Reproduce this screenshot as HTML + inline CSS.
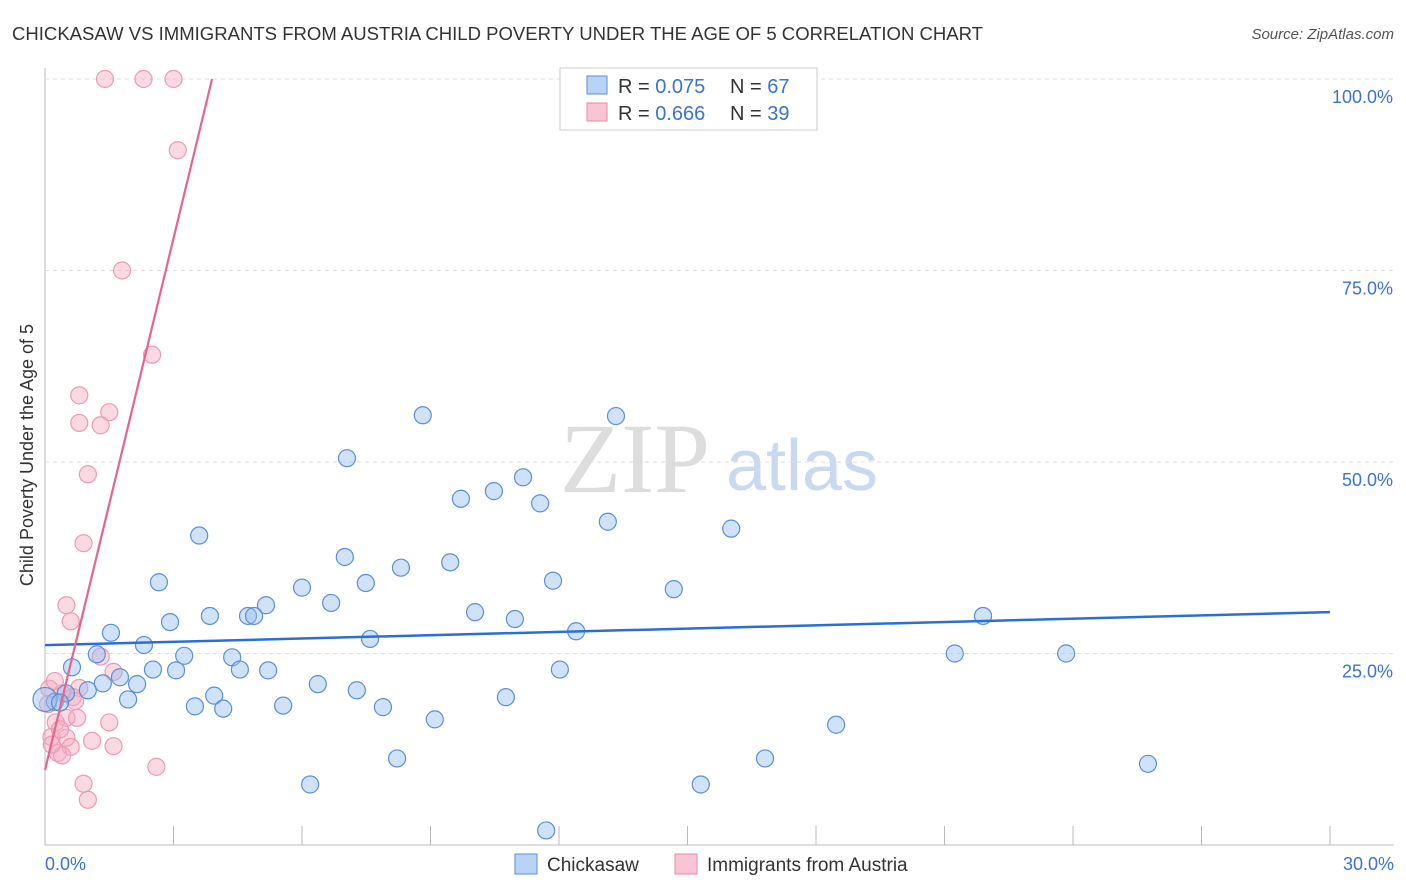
<!DOCTYPE html>
<html><head><meta charset="utf-8"><style>
body{margin:0;background:#fff;font-family:"Liberation Sans",sans-serif}
svg{display:block}
</style></head><body>
<svg id="c" width="1406" height="892">
<text x="12" y="40" font-size="18" fill="#333" textLength="971" lengthAdjust="spacingAndGlyphs">CHICKASAW VS IMMIGRANTS FROM AUSTRIA CHILD POVERTY UNDER THE AGE OF 5 CORRELATION CHART</text>
<text x="1394" y="39" font-size="15" fill="#555" font-style="italic" text-anchor="end">Source: ZipAtlas.com</text>
<text x="33" y="455" font-size="18" fill="#333" text-anchor="middle" transform="rotate(-90 33 455)">Child Poverty Under the Age of 5</text>
<text x="635" y="492" font-size="100" fill="#ddd" text-anchor="middle" font-family="Liberation Serif">ZIP</text>
<text x="802" y="490" font-size="72" fill="#c9d9f0" text-anchor="middle">atlas</text>
<g id="grid"></g><g id="pts"></g><g id="lines"></g>
<g>
<rect x="560" y="68" width="257" height="62" fill="#fff" stroke="#ccc"/>
<rect x="587" y="76" width="20" height="18" fill="#b8d3f5" stroke="#5b8fd8"/>
<rect x="587" y="103" width="20" height="18" fill="#f9c4d3" stroke="#e98aa8"/>
<text x="618" y="93" font-size="20" fill="#333">R = <tspan fill="#3a73d1">0.075</tspan></text>
<text x="730" y="93" font-size="20" fill="#333">N = <tspan fill="#3a73d1">67</tspan></text>
<text x="618" y="120" font-size="20" fill="#333">R = <tspan fill="#3a73d1">0.666</tspan></text>
<text x="730" y="120" font-size="20" fill="#333">N = <tspan fill="#3a73d1">39</tspan></text>
</g>
<g>
<rect x="515" y="854" width="22" height="20" fill="#b8d3f5" stroke="#5b8fd8"/>
<text x="547" y="871" font-size="19" fill="#333">Chickasaw</text>
<rect x="675" y="854" width="22" height="20" fill="#f9c4d3" stroke="#e98aa8"/>
<text x="707" y="871" font-size="19" fill="#333">Immigrants from Austria</text>
</g>
</svg>
<script>
const yTicks=[25,50,75,100];
const xTickLabels=["0.0%","30.0%"];
const blueX=[8.82,7.05,13.33,11.16,9.71,10.48,11.56,13.14,16.02,3.60,7.00,9.46,8.31,11.86,2.66,7.49,6.00,14.68,6.68,5.16,10.04,10.97,3.85,4.74,4.88,2.92,21.90,12.40,1.54,7.59,2.31,1.21,3.25,4.37,21.24,23.84,0.63,2.52,3.06,4.55,5.21,12.02,1.75,1.35,2.15,1.00,6.37,7.28,3.95,10.76,0.49,0.23,1.94,3.50,4.16,5.56,7.89,9.10,18.47,8.22,16.81,25.75,6.19,15.31,11.70,0.0,0.35];
const blueY=[56.1,50.5,56.0,48.0,45.2,46.2,44.6,42.2,41.3,40.4,37.6,36.9,36.2,34.5,34.3,34.2,33.6,33.4,31.6,31.3,30.4,29.5,29.9,29.9,29.9,29.1,29.9,27.9,27.7,26.9,26.1,24.9,24.7,24.5,25.0,25.0,23.2,22.9,22.8,22.9,22.8,22.9,21.9,21.1,21.0,20.2,21.0,20.2,19.5,19.3,19.8,18.7,19.0,18.1,17.8,18.2,18.0,16.4,15.7,11.3,11.3,10.6,7.9,7.9,1.9,19.0,18.6];
const pinkX=[1.4,2.3,3.0,3.1,1.8,2.5,0.8,1.5,0.8,1.3,1.0,0.9,0.5,0.6,1.3,1.6,0.8,0.4,0.65,0.5,0.75,1.5,0.25,1.1,0.5,0.15,1.6,0.6,0.3,0.4,2.6,0.9,1.0,0.1,0.07,0.23,0.35,0.16,0.7];
const pinkY=[100,100,100,90.7,75.0,64.0,58.7,56.5,55.1,54.8,48.4,39.4,31.3,29.2,24.6,22.6,20.5,19.8,19.3,16.6,16.6,16.0,16.0,13.6,14.0,14.1,12.9,12.8,12.0,11.7,10.2,8.0,5.9,20.4,18.4,21.4,15.1,13.1,18.8];
const X=v=>45+v/30*1285, Y=v=>845-v/100*766;
const ns="http://www.w3.org/2000/svg";
function mk(tag,attrs,parent){const e=document.createElementNS(ns,tag);for(const k in attrs)e.setAttribute(k,attrs[k]);parent.appendChild(e);return e;}
const g=document.getElementById('grid');
mk('line',{x1:45,y1:68,x2:45,y2:845,stroke:'#bbb'},g);
mk('line',{x1:45,y1:845,x2:1394,y2:845,stroke:'#bbb'},g);
yTicks.forEach(t=>{
 const l=mk('line',{x1:45,y1:Y(t),x2:1394,y2:Y(t),stroke:'#ddd','stroke-dasharray':'4,4'},g);
 
 
 const tx=mk('text',{x:1393,y:Y(t)+24,'font-size':18,fill:'#3a73d1','text-anchor':'end'},g);
 tx.textContent=t.toFixed(1)+'%';
 
 
});
for(let i=0;i<=10;i++){mk('line',{x1:X(i*3),y1:826,x2:X(i*3),y2:845,stroke:'#bbb'},g);}
[[0,45,'start'],[30,1394,'end']].forEach((a,i)=>{
 const tx=mk('text',{x:a[1],y:870,'font-size':18,fill:'#3a73d1','text-anchor':a[2]},g);
 tx.textContent=xTickLabels[i];
 
 
});
const p=document.getElementById('pts');
pinkX.forEach((v,i)=>{const c=mk('circle',{cx:X(v),cy:Y(pinkY[i]),r:8.5,fill:'rgba(246,170,192,0.45)',stroke:'#ec9ab2','stroke-width':1.2},p);
 
 });
blueX.forEach((v,i)=>{const c=mk('circle',{cx:X(v),cy:Y(blueY[i]),r:(i==65?12:8.5),fill:'rgba(150,190,240,0.45)',stroke:'#5b8fd8','stroke-width':1.2},p);
 
 });
const L=document.getElementById('lines');
const bl=mk('line',{x1:X(0),y1:Y(26.1),x2:X(30),y2:Y(30.4),stroke:'#2a6fd6','stroke-width':2.5},L);


const pl=mk('line',{x1:X(0),y1:Y(9.8),x2:X(3.9),y2:Y(100),stroke:'#e8648e','stroke-width':2.2},L);


</script>
</body></html>
